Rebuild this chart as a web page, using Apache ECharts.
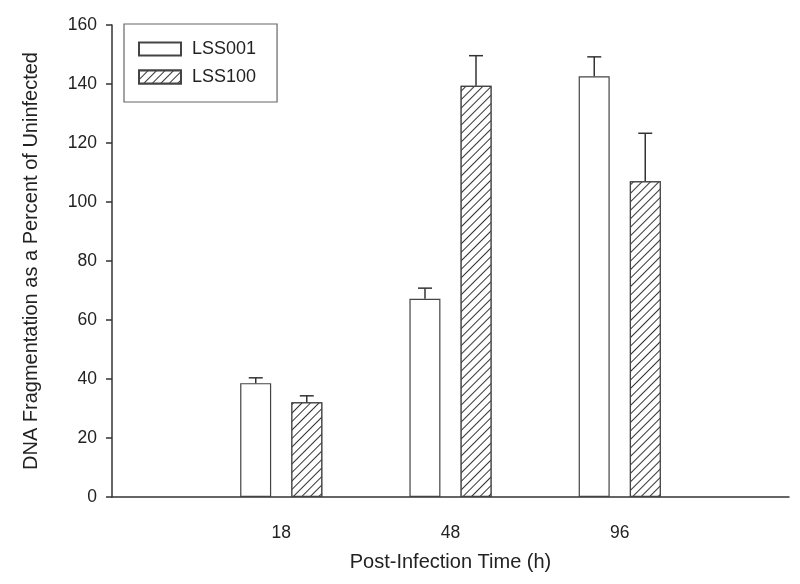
<!DOCTYPE html>
<html>
<head>
<meta charset="utf-8">
<script src="https://cdn.jsdelivr.net/npm/echarts@6/dist/echarts.min.js"></script>
<style>
  html, body { margin: 0; padding: 0; background: #fff; }
  #chart { width: 800px; height: 584px; }
</style>
</head>
<body>
<div id="chart"></div>
<script>
const categories = ['18', '48', '96']
const xPositions = [1, 2, 3]
const lss001 = [38.6, 67.2, 142.6]
const lss001Err = [1.8, 3.6, 6.6]
const lss100 = [32.1, 139.4, 107.0]
const lss100Err = [2.2, 10.2, 16.3]

const font = 'Liberation Sans, Arial, sans-serif'
const ink = '#333'

const chart = echarts.init(document.getElementById('chart'))

const barData = vals => vals.map((v, i) => [xPositions[i], v])
const errData = (vals, errs) => vals.map((v, i) => [xPositions[i], v, v + errs[i]])

// 31px bars, 20px gap -> centres sit 25.5px either side of the tick
const errorSeries = (name, vals, errs, shift) => ({
  name: name + ' err',
  type: 'custom',
  z: 5,
  data: errData(vals, errs),
  renderItem: (params, api) => {
    const base = api.coord([api.value(0), api.value(1)])
    const top = api.coord([api.value(0), api.value(2)])
    const x = base[0] + shift
    const style = { stroke: ink, lineWidth: 1.5 }
    return {
      type: 'group',
      children: [
        { type: 'line', shape: { x1: x, y1: base[1], x2: x, y2: top[1] }, style },
        { type: 'line', shape: { x1: x - 7, y1: top[1], x2: x + 7, y2: top[1] }, style }
      ]
    }
  }
})

const hatch = {
  symbol: 'rect',
  symbolSize: 1,
  color: '#333',
  backgroundColor: '#fff',
  dashArrayX: [1, 0],
  dashArrayY: [1, 5],
  rotation: -Math.PI / 4
}

chart.setOption({
  backgroundColor: '#fff',
  animation: false,
  textStyle: { fontFamily: font, color: '#222' },
  grid: { left: 112, right: 11, top: 25, bottom: 87 },
  legend: {
    orient: 'vertical',
    left: 124,
    top: 24,
    padding: [16, 21, 16, 14],
    itemGap: 10,
    itemWidth: 42,
    itemHeight: 13,
    icon: 'rect',
    borderColor: '#666',
    borderWidth: 1.2,
    data: ['LSS001', 'LSS100'],
    textStyle: { fontFamily: font, fontSize: 18, color: '#222', padding: [0, 0, 0, 6] }
  },
  xAxis: {
    type: 'value',
    min: 0,
    max: 4,
    interval: 1,
    name: 'Post-Infection Time (h)',
    nameLocation: 'middle',
    nameGap: 55,
    nameTextStyle: { fontFamily: font, fontSize: 20, color: '#222' },
    axisLine: { show: true, lineStyle: { color: ink, width: 1.5 } },
    axisTick: { show: false },
    splitLine: { show: false },
    axisLabel: {
      margin: 27,
      fontSize: 17.5,
      color: '#222',
      fontFamily: font,
      formatter: v => {
        const i = xPositions.indexOf(v)
        return i >= 0 ? categories[i] : ''
      }
    }
  },
  yAxis: {
    type: 'value',
    min: 0,
    max: 160,
    interval: 20,
    name: 'DNA Fragmentation as a Percent of Uninfected',
    nameLocation: 'middle',
    nameGap: 71,
    nameTextStyle: { fontFamily: font, fontSize: 20, color: '#222' },
    axisLine: { show: true, lineStyle: { color: ink, width: 1.5 } },
    axisTick: { show: true, length: 6, lineStyle: { color: ink, width: 1.5 } },
    splitLine: { show: false },
    axisLabel: { margin: 15, fontSize: 17.5, color: '#222', fontFamily: font }
  },
  series: [
    {
      name: 'LSS001',
      type: 'bar',
      barWidth: 31,
      barGap: '65%',
      data: barData(lss001),
      itemStyle: { color: '#fff', borderColor: '#444', borderWidth: 1.2 }
    },
    {
      name: 'LSS100',
      type: 'bar',
      barWidth: 31,
      barGap: '65%',
      data: barData(lss100),
      itemStyle: { color: '#fff', borderColor: '#444', borderWidth: 1.2, decal: hatch }
    },
    errorSeries('LSS001', lss001, lss001Err, -25.5),
    errorSeries('LSS100', lss100, lss100Err, 25.5)
  ]
})
</script>
</body>
</html>
